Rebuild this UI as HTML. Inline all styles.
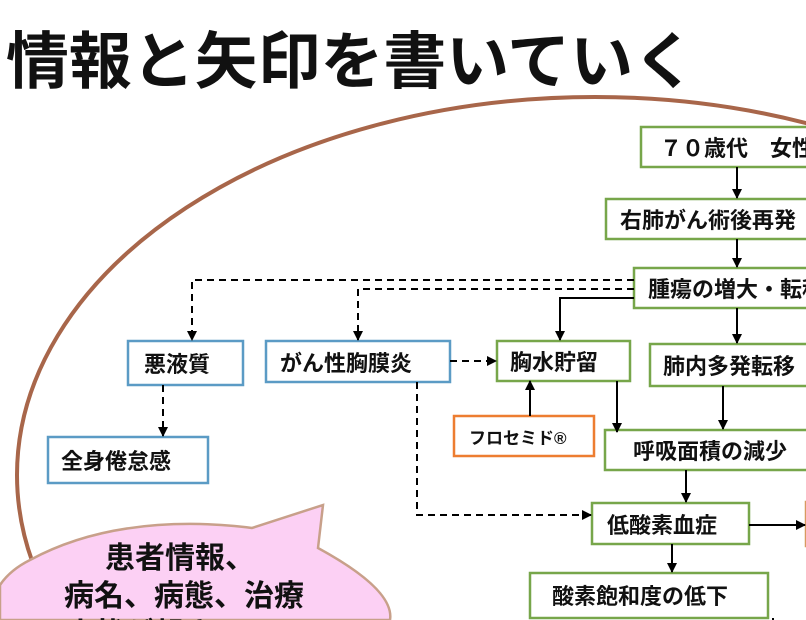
<!DOCTYPE html>
<html><head><meta charset="utf-8"><style>
html,body{margin:0;background:#fff;width:806px;height:620px;overflow:hidden;}
svg{display:block;overflow:hidden}
text{font-family:"Liberation Sans","Noto Sans CJK JP",sans-serif;font-weight:bold;fill:#111}
</style></head><body>
<svg width="806" height="620" viewBox="0 0 806 620" xmlns="http://www.w3.org/2000/svg">
<defs>
<marker id="a" viewBox="0 0 10 10" refX="9" refY="5" markerWidth="5" markerHeight="5" orient="auto"><path d="M0,0L10,5L0,10z" fill="#000"/></marker>
<clipPath id="c"><rect x="0" y="0" width="806" height="620"/></clipPath>
</defs>
<text x="6" y="83" font-size="62" textLength="690" lengthAdjust="spacingAndGlyphs">情報と矢印を書いていく</text>
<ellipse cx="595" cy="475" rx="578" ry="378" fill="none" stroke="#a8664a" stroke-width="4"/>
<g fill="#fff" stroke-width="2.5">
<rect x="641" y="127" width="200" height="40" stroke="#77a64a"/>
<rect x="606" y="199" width="230" height="40" stroke="#77a64a"/>
<rect x="634" y="268" width="200" height="40" stroke="#77a64a"/>
<rect x="128" y="341" width="115" height="44" stroke="#5b9bc5"/>
<rect x="266" y="341" width="184" height="41" stroke="#5b9bc5"/>
<rect x="497" y="341" width="133" height="40" stroke="#77a64a"/>
<rect x="650" y="344" width="170" height="42" stroke="#77a64a"/>
<rect x="48" y="437" width="160" height="46" stroke="#5b9bc5"/>
<rect x="454" y="416" width="140" height="40" stroke="#ed7d31"/>
<rect x="605" y="430" width="210" height="40" stroke="#77a64a"/>
<rect x="592" y="503" width="157" height="41" stroke="#77a64a"/>
<rect x="530" y="573" width="238" height="45" stroke="#77a64a"/>
<rect x="806" y="502" width="20" height="44" stroke="#d89a60"/>
</g>
<g font-size="22">
<text x="660" y="156">７０歳代　女性</text>
<text x="620" y="228">右肺がん術後再発</text>
<text x="648" y="297">腫瘍の増大・転移</text>
<text x="144" y="372">悪液質</text>
<text x="280" y="371">がん性胸膜炎</text>
<text x="510" y="370">胸水貯留</text>
<text x="663" y="374">肺内多発転移</text>
<text x="61" y="469">全身倦怠感</text>
<text x="633" y="459">呼吸面積の減少</text>
<text x="607" y="533">低酸素血症</text>
<text x="552" y="604">酸素飽和度の低下</text>
</g>
<text x="469" y="444" font-size="17">フロセミド®</text>
<g stroke="#000" stroke-width="2" fill="none">
<path d="M737 167V198" marker-end="url(#a)"/>
<path d="M737 239V267" marker-end="url(#a)"/>
<path d="M737 308V343" marker-end="url(#a)"/>
<path d="M634 298H560V340" marker-end="url(#a)"/>
<path d="M530 416V381" marker-end="url(#a)"/>
<path d="M617 381V432" marker-end="url(#a)"/>
<path d="M723 386V429" marker-end="url(#a)"/>
<path d="M686 470V502" marker-end="url(#a)"/>
<path d="M749 525H805" marker-end="url(#a)"/>
<path d="M672 544V572" marker-end="url(#a)"/>
<path d="M773 618V620"/>
<g stroke-dasharray="7,5">
<path d="M634 280H192V340" marker-end="url(#a)"/>
<path d="M634 289H358V340" marker-end="url(#a)"/>
<path d="M450 361H496" marker-end="url(#a)"/>
<path d="M163 385V436" marker-end="url(#a)"/>
<path d="M417 382V515H591" marker-end="url(#a)"/>
</g>
</g>
<path d="M30 560 Q100 522 200 524 Q230 525 252 528 L323 505 L318 548 Q395 590 390 620 L0 620 L0 585 Q10 570 30 560Z" fill="#fcd0f4" stroke="#c8a08a" stroke-width="2.5"/>
<g font-size="30" text-anchor="middle" clip-path="url(#c)">
<text x="180" y="568">患者情報、</text>
<text x="184" y="606">病名、病態、治療</text>
<text x="184" y="644">症状が起きている</text>
</g>
</svg>
</body></html>
